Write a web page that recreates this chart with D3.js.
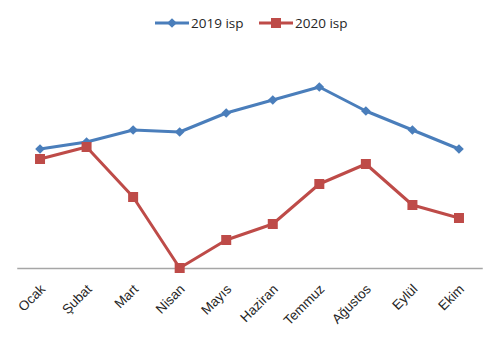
<!DOCTYPE html>
<html>
<head>
<meta charset="utf-8">
<script src="https://cdn.jsdelivr.net/npm/d3@7"></script>
<style>
  html, body { margin: 0; padding: 0; background: #fff; }
  svg { display: block; font-family: "Open Sans", "Liberation Sans", sans-serif; }
</style>
</head>
<body>
<svg id="chart" width="500" height="342"></svg>
<script>
// Monthly index values, 2019 vs 2020
const months = ["Ocak", "Şubat", "Mart", "Nisan", "Mayıs", "Haziran", "Temmuz", "Ağustos", "Eylül", "Ekim"];
const isp2019 = [119, 126, 138, 136, 155, 168, 181, 157, 138, 119];
const isp2020 = [109, 121, 71, 0, 28, 44, 84, 104, 63, 50];
const seriesNames = ["2019 isp", "2020 isp"];
const colors = ["#4A7EBB", "#BE4B48"];

const svg = d3.select("#chart");

const x = d3.scaleBand().domain(months).range([16.75, 482.25]);
const y = d3.scaleLinear().domain([0, 200]).range([268, 68]);
const cx = m => x(m) + x.bandwidth() / 2;

// Category axis
const xAxis = d3.axisBottom(x).tickSize(0).tickPadding(0);
const gx = svg.append("g").attr("transform", `translate(0,${y(0)})`).call(xAxis);
gx.select(".domain").attr("stroke", "#A6A6A6").attr("stroke-width", 1.5);
gx.selectAll(".tick text")
  .attr("fill", "#262626")
  .attr("font-size", 13.5)
  .attr("text-anchor", "end")
  .attr("y", 0).attr("dy", 0)
  .attr("transform", "translate(6,22) rotate(-45)");

const series = [isp2019, isp2020];
const line = d3.line().x((d, i) => cx(months[i])).y(d => y(d));

series.forEach((vals, s) => {
  svg.append("path")
    .datum(vals)
    .attr("fill", "none")
    .attr("stroke", colors[s])
    .attr("stroke-width", 3)
    .attr("stroke-linejoin", "round")
    .attr("d", line);
});

// Markers: diamonds for 2019, squares for 2020
const diamond = d3.symbol().type(d3.symbolDiamond2).size(60);
svg.append("g").selectAll("path")
  .data(isp2019)
  .join("path")
  .attr("d", diamond)
  .attr("transform", (d, i) => `translate(${cx(months[i])},${y(d)})`)
  .attr("fill", colors[0]);

svg.append("g").selectAll("rect")
  .data(isp2020)
  .join("rect")
  .attr("x", (d, i) => cx(months[i]) - 5)
  .attr("y", d => y(d) - 5)
  .attr("width", 10).attr("height", 10)
  .attr("fill", colors[1]);

// Legend
const legend = svg.append("g").attr("transform", "translate(0,23)");
const legendX = [155, 259];
seriesNames.forEach((name, s) => {
  const g = legend.append("g").attr("transform", `translate(${legendX[s]},0)`);
  g.append("line").attr("x1", 0).attr("x2", 34).attr("y1", 0).attr("y2", 0)
    .attr("stroke", colors[s]).attr("stroke-width", 3);
  if (s === 0) {
    g.append("path").attr("d", diamond).attr("transform", "translate(17,0)").attr("fill", colors[s]);
  } else {
    g.append("rect").attr("x", 12).attr("y", -5).attr("width", 10).attr("height", 10).attr("fill", colors[s]);
  }
  g.append("text").attr("x", 36).attr("y", 0).attr("dy", "0.35em")
    .attr("font-size", 13.5).attr("fill", "#262626").text(name);
});
</script>
</body>
</html>
